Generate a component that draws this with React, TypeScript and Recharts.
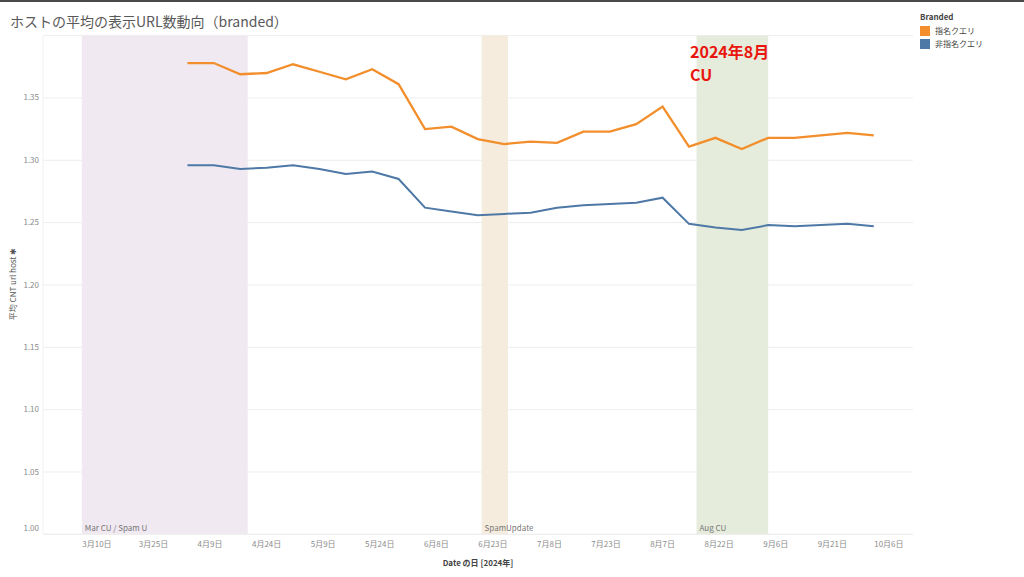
import { CartesianGrid, Line, LineChart, ReferenceArea, XAxis, YAxis } from 'recharts'

// weekly points
const dates = [
  '2024-04-03', '2024-04-10', '2024-04-17', '2024-04-24', '2024-05-01', '2024-05-08', '2024-05-15',
  '2024-05-22', '2024-05-29', '2024-06-05', '2024-06-12', '2024-06-19', '2024-06-26', '2024-07-03',
  '2024-07-10', '2024-07-17', '2024-07-24', '2024-07-31', '2024-08-07', '2024-08-14', '2024-08-21',
  '2024-08-28', '2024-09-04', '2024-09-11', '2024-09-18', '2024-09-25', '2024-10-02',
]
const branded = [
  1.378, 1.378, 1.369, 1.370, 1.377, 1.371, 1.365, 1.373, 1.361, 1.325, 1.327, 1.317, 1.313, 1.315,
  1.314, 1.323, 1.323, 1.329, 1.343, 1.311, 1.318, 1.309, 1.318, 1.318, 1.320, 1.322, 1.320,
]
const nonBranded = [
  1.296, 1.296, 1.293, 1.294, 1.296, 1.293, 1.289, 1.291, 1.285, 1.262, 1.259, 1.256, 1.257, 1.258,
  1.262, 1.264, 1.265, 1.266, 1.270, 1.249, 1.246, 1.244, 1.248, 1.247, 1.248, 1.249, 1.247,
]
const tickDates = [
  '2024-03-10', '2024-03-25', '2024-04-09', '2024-04-24', '2024-05-09', '2024-05-24', '2024-06-08',
  '2024-06-23', '2024-07-08', '2024-07-23', '2024-08-07', '2024-08-22', '2024-09-06', '2024-09-21',
  '2024-10-06',
]
const yTicks = [1.0, 1.05, 1.1, 1.15, 1.2, 1.25, 1.3, 1.35]
const bands = [
  { from: '2024-03-06', to: '2024-04-19', label: 'Mar CU / Spam U', fill: '#f1e9f2' },
  { from: '2024-06-20', to: '2024-06-27', label: 'SpamUpdate', fill: '#f5ecde' },
  { from: '2024-08-16', to: '2024-09-04', label: 'Aug CU', fill: '#e6ecdb' },
]
const noteLines = ['2024年8月', 'CU']

const ORANGE = '#f28e2b'
const BLUE = '#4e79a7'
const FONT = '"Noto Sans CJK JP", "Noto Sans", sans-serif'

const toDay = (s: string) => Date.parse(s + 'T00:00:00Z') / 86400000
const fmtDay = (v: number) => {
  const d = new Date(Math.round(v) * 86400000)
  return `${d.getUTCMonth() + 1}月${d.getUTCDate()}日`
}

const rows = dates.map((d, i) => ({ day: toDay(d), branded: branded[i], nonBranded: nonBranded[i] }))
const origin = toDay('2024-03-10')

// Tableau nudges the bottom label up so it sits inside the pane
function YTick({ x, y, payload }: any) {
  const dy = payload.value === 1 ? -6 : 0
  return (
    <text x={x} y={y + dy} dy="0.32em" textAnchor="end" fontSize={8} fill="#8a8a8a" fontFamily={FONT}>
      {payload.value.toFixed(2)}
    </text>
  )
}

export default function App() {
  return (
    <div
      style={{
        position: 'absolute', left: 0, top: 0, width: 1024, height: 577, background: '#fff',
        borderTop: '2px solid #4a4a4a', boxSizing: 'border-box', fontFamily: FONT,
      }}
    >
      <div style={{ position: 'absolute', left: 10, top: 9, fontSize: 14, color: '#595959' }}>
        ホストの平均の表示URL数動向（branded）
      </div>

      <LineChart
        width={1024}
        height={575}
        data={rows}
        margin={{ top: 33.6, right: 111, bottom: 10.7, left: 0 }}
        style={{ position: 'absolute', left: 0, top: 0 }}
      >
        {bands.map((b) => (
          <ReferenceArea
            key={b.label}
            x1={toDay(b.from)}
            x2={toDay(b.to)}
            fill={b.fill}
            fillOpacity={1}
            strokeOpacity={0}
            label={{ value: b.label, position: 'insideBottomLeft', fontSize: 8, fill: '#777', fontFamily: FONT, offset: 3 }}
          />
        ))}
        <CartesianGrid vertical={false} stroke="#eeeeee" />
        <XAxis
          dataKey="day"
          type="number"
          domain={[origin - 14.3, origin + 216.4]}
          ticks={tickDates.map(toDay)}
          tickFormatter={fmtDay}
          allowDataOverflow
          height={32}
          tickLine={false}
          axisLine={{ stroke: '#eeeeee' }}
          tickSize={0}
          tickMargin={7}
          tick={{ fontSize: 8, fill: '#8a8a8a', fontFamily: FONT }}
        />
        <YAxis
          type="number"
          domain={[1.0, 1.4]}
          ticks={yTicks}
          width={43}
          tickLine={false}
          axisLine={{ stroke: '#f1f1f1' }}
          tickSize={0}
          tickMargin={4}
          tick={<YTick />}
        />
        <Line dataKey="branded" stroke={ORANGE} strokeWidth={2.3} dot={false} isAnimationActive={false} />
        <Line dataKey="nonBranded" stroke={BLUE} strokeWidth={2} dot={false} isAnimationActive={false} />
      </LineChart>

      <div
        style={{
          position: 'absolute', left: 12, top: 282, transform: 'translate(-50%, -50%) rotate(-90deg)',
          fontSize: 8, color: '#555', whiteSpace: 'nowrap',
        }}
      >
        平均 CNT url host ✱
      </div>
      <div
        style={{
          position: 'absolute', left: 478, top: 560, transform: 'translate(-50%, -50%)',
          fontSize: 8, fontWeight: 700, color: '#444', whiteSpace: 'nowrap',
        }}
      >
        Date の日 [2024年]
      </div>

      <div style={{ position: 'absolute', left: 920, top: 9, fontSize: 8, color: '#444' }}>
        <div style={{ fontWeight: 700, marginBottom: 2 }}>Branded</div>
        {[{ c: ORANGE, t: '指名クエリ' }, { c: BLUE, t: '非指名クエリ' }].map((l) => (
          <div key={l.t} style={{ display: 'flex', alignItems: 'center', gap: 5, height: 13 }}>
            <span style={{ width: 10, height: 10, background: l.c, display: 'inline-block' }} />
            <span>{l.t}</span>
          </div>
        ))}
      </div>

      {noteLines.map((t, i) => (
        <div
          key={t}
          style={{
            position: 'absolute', left: 690, top: 41 + i * 23, fontSize: 16, fontWeight: 700,
            color: '#e8160f', lineHeight: '17px', height: 17, whiteSpace: 'nowrap',
          }}
        >
          {t}
        </div>
      ))}
    </div>
  )
}
